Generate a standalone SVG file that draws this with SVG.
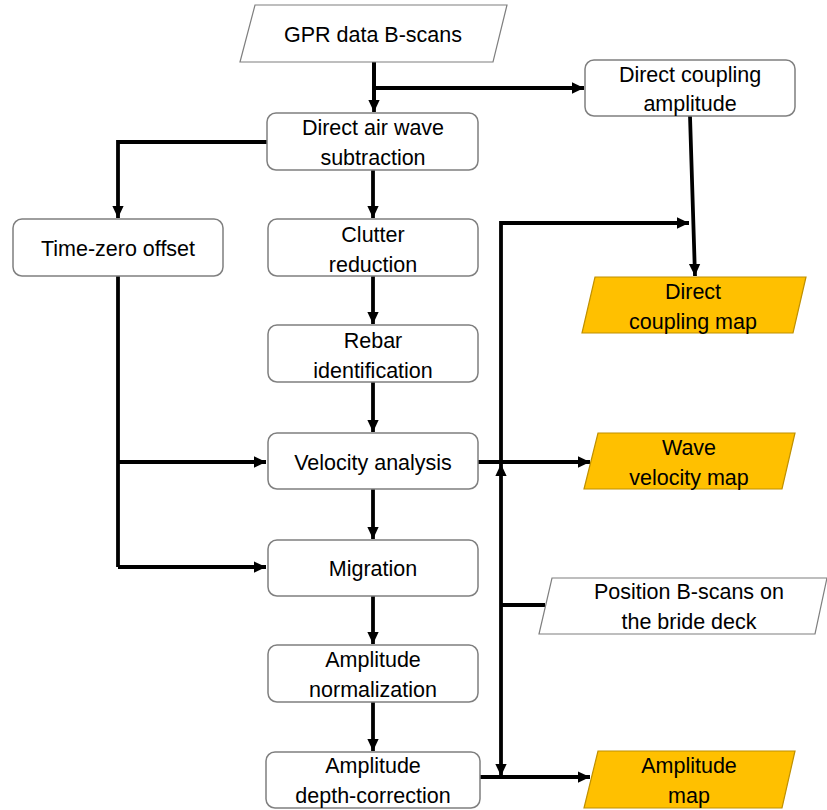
<svg xmlns="http://www.w3.org/2000/svg" width="827" height="810" viewBox="0 0 827 810">
<defs>
<marker id="ah" markerWidth="4" markerHeight="4" refX="3.2" refY="2" orient="auto" markerUnits="strokeWidth">
<path d="M0,0.5 L3.2,2 L0,3.5 Z" fill="#000"/>
</marker>
<style>
.box{fill:#fff;stroke:#7f7f7f;stroke-width:1.5}
.io{fill:#fff;stroke:#7f7f7f;stroke-width:1.2}
.out{fill:#ffc000;stroke:#bf9000;stroke-width:1.2}
text{font-family:"Liberation Sans",Arial,sans-serif;font-size:21.5px;fill:#000;text-anchor:middle}
.c{fill:none;stroke:#000;stroke-width:3.8}
.a{marker-end:url(#ah)}
</style>
</defs>
<rect width="827" height="810" fill="#fff"/>
<g id="connectors">
<path class="c" d="M374,62 V100"/>
<path class="c a" d="M374,62 V112"/>
<path class="c a" d="M374,88 H584"/>
<path class="c a" d="M690,116 L695,276"/>
<path class="c a" d="M267,142 H118 V218"/>
<path class="c" d="M118,276 V567"/>
<path class="c a" d="M118,567 H266"/>
<path class="c a" d="M118,462 H266"/>
<path class="c a" d="M373,170 V218"/>
<path class="c a" d="M373,276 V324"/>
<path class="c a" d="M373,382 V432"/>
<path class="c a" d="M373,489 V539"/>
<path class="c a" d="M373,596 V644"/>
<path class="c a" d="M373,702 V751"/>
<path class="c a" d="M478,462 H590"/>
<path class="c a" d="M480,777 H590"/>
<path class="c" d="M545,605 H501"/>
<path class="c a" d="M501,605 V776"/>
<path class="c a" d="M501,605 V464"/>
<path class="c a" d="M501,464 V223 H689"/>
</g>
<g id="gpr">
<polygon class="io" points="255,5 507,5 493,62 240,62"/>
<text x="373" y="42">GPR data B-scans</text>
</g>
<g id="dcamp">
<rect class="box" x="585" y="60" width="210" height="56" rx="9"/>
<text x="690" y="82">Direct coupling</text>
<text x="690" y="111">amplitude</text>
</g>
<g id="dcmap">
<polygon class="out" points="595,277 806,277 793,333 582,333"/>
<text x="693" y="299">Direct</text>
<text x="693" y="329">coupling map</text>
</g>
<g id="airwave">
<rect class="box" x="267" y="113" width="211" height="57" rx="9"/>
<text x="373" y="135">Direct air wave</text>
<text x="373" y="165">subtraction</text>
</g>
<g id="timezero">
<rect class="box" x="13" y="219" width="210" height="57" rx="9"/>
<text x="118" y="256">Time-zero offset</text>
</g>
<g id="clutter">
<rect class="box" x="268" y="219" width="210" height="57" rx="9"/>
<text x="373" y="242">Clutter</text>
<text x="373" y="272">reduction</text>
</g>
<g id="rebar">
<rect class="box" x="268" y="325" width="210" height="57" rx="9"/>
<text x="373" y="348">Rebar</text>
<text x="373" y="378">identification</text>
</g>
<g id="velocity">
<rect class="box" x="268" y="433" width="210" height="56" rx="9"/>
<text x="373" y="470">Velocity analysis</text>
</g>
<g id="wavemap">
<polygon class="out" points="598,433 795,433 782,489 584,489"/>
<text x="689" y="455">Wave</text>
<text x="689" y="485">velocity map</text>
</g>
<g id="migration">
<rect class="box" x="268" y="540" width="210" height="56" rx="9"/>
<text x="373" y="576">Migration</text>
</g>
<g id="position">
<polygon class="io" points="552,578 827,578 815,634 539,634"/>
<text x="689" y="599">Position B-scans on</text>
<text x="689" y="629">the bride deck</text>
</g>
<g id="ampnorm">
<rect class="box" x="268" y="645" width="210" height="57" rx="9"/>
<text x="373" y="667">Amplitude</text>
<text x="373" y="697">normalization</text>
</g>
<g id="ampdepth">
<rect class="box" x="266" y="752" width="214" height="56" rx="9"/>
<text x="373" y="773">Amplitude</text>
<text x="373" y="803">depth-correction</text>
</g>
<g id="ampmap">
<polygon class="out" points="598,751 795,751 782,808 584,808"/>
<text x="689" y="773">Amplitude</text>
<text x="689" y="803">map</text>
</g>
</svg>
